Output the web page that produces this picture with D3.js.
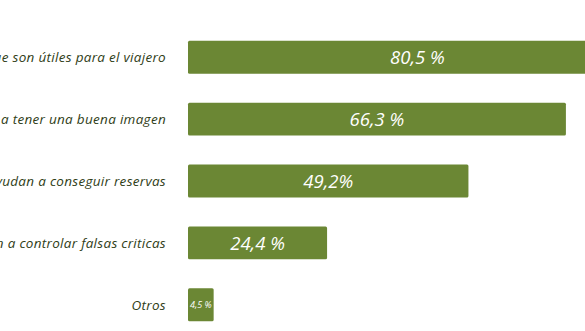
<!DOCTYPE html>
<html>
<head>
<meta charset="utf-8">
<script src="https://cdn.jsdelivr.net/npm/d3@7"></script>
<style>
  html, body { margin: 0; padding: 0; background: #ffffff; }
  svg { display: block; }
</style>
</head>
<body>
<div id="chart"></div>
<script>
// Reasons given, share of respondents (%)
const categories = [
  "Publican opiniones que son útiles para el viajero",
  "Ayudan a tener una buena imagen",
  "Ayudan a conseguir reservas",
  "Ayudan a controlar falsas criticas",
  "Otros"
];
const values = [80.5, 66.3, 49.2, 24.4, 4.5];
const valueLabels = ["80,5 %", "66,3 %", "49,2%", "24,4 %", "4,5 %"];

const width = 585, height = 331;
const barColor = "#6b8734";
const textColor = "#2f3d17";
const font = "'Open Sans', 'Noto Sans', sans-serif";

const svg = d3.select("#chart").append("svg")
  .attr("width", width)
  .attr("height", height);

const x = d3.scaleLinear().domain([0, 100]).range([188, 758]);
const y = d3.scaleBand().domain(categories).range([26, 336]).paddingInner(0.47).paddingOuter(0.24);

const rows = svg.selectAll("g.row")
  .data(categories.map((c, i) => ({ c, v: values[i], l: valueLabels[i] })))
  .join("g").attr("class", "row");

rows.append("rect")
  .attr("x", x(0))
  .attr("y", d => y(d.c))
  .attr("width", d => x(d.v) - x(0))
  .attr("height", y.bandwidth())
  .attr("rx", 1.5)
  .attr("fill", barColor);

rows.append("text")
  .attr("x", d => (x(0) + x(d.v)) / 2)
  .attr("y", d => y(d.c) + y.bandwidth() / 2)
  .attr("dy", "0.36em")
  .attr("text-anchor", "middle")
  .attr("fill", "#ffffff")
  .attr("font-family", font)
  .attr("font-style", "italic")
  .attr("font-size", d => d.v < 10 ? 9 : 18.5)
  .text(d => d.l);

rows.append("text")
  .attr("x", 166)
  .attr("y", d => y(d.c) + y.bandwidth() / 2)
  .attr("dy", "0.36em")
  .attr("text-anchor", "end")
  .attr("fill", textColor)
  .attr("font-family", font)
  .attr("font-style", "italic")
  .attr("font-size", 13.5)
  .attr("letter-spacing", 0.3)
  .text(d => d.c);
</script>
</body>
</html>
